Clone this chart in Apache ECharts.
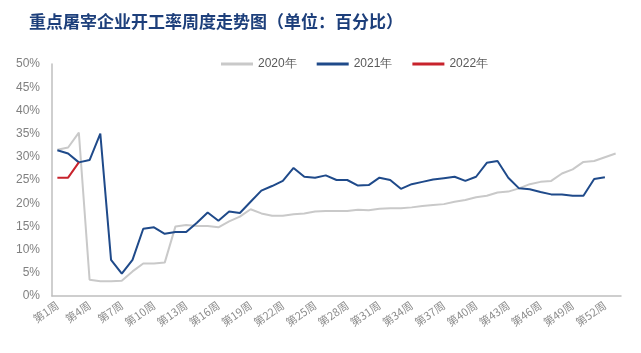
<!DOCTYPE html>
<html><head><meta charset="utf-8">
<script src="https://cdn.jsdelivr.net/npm/echarts@6/dist/echarts.min.js"></script>
<style>html,body{margin:0;padding:0;background:#fff;}#c{width:641px;height:353px;}</style>
</head><body><div id="c"></div>
<script>
const weeks = [];
for (let i = 1; i <= 53; i++) weeks.push('第' + i + '周');
const y2020 = [31.5,32.0,35.2,3.5,3.2,3.2,3.3,5.3,7.0,7.0,7.2,15.0,15.3,15.1,15.1,14.8,16.1,17.1,18.7,17.8,17.3,17.3,17.6,17.8,18.2,18.3,18.3,18.3,18.6,18.5,18.8,18.9,18.9,19.1,19.4,19.6,19.8,20.3,20.7,21.3,21.6,22.3,22.5,23.2,24.1,24.6,24.8,26.4,27.3,28.9,29.1,29.9,30.7];
const y2021 = [31.4,30.7,28.8,29.3,35.0,7.8,4.8,7.8,14.5,14.8,13.4,13.8,13.8,15.8,18.0,16.2,18.2,17.9,20.3,22.7,23.7,24.8,27.6,25.7,25.5,26.0,25.0,25.0,23.8,23.9,25.5,25.0,23.1,24.1,24.6,25.1,25.4,25.7,24.8,25.7,28.7,29.1,25.5,23.2,23.0,22.4,21.9,21.9,21.6,21.6,25.2,25.6];
const y2022 = [25.5,25.5,28.8];
const yTicks = [0,5,10,15,20,25,30,35,40,45,50];

const chart = echarts.init(document.getElementById('c'));
chart.setOption({
  animation: false,
  backgroundColor: '#fff',
  title: {
    text: '重点屠宰企业开工率周度走势图（单位：百分比）',
    left: 24, top: 8,
    textStyle: {fontFamily: 'Noto Sans CJK SC', fontWeight: 'bold', fontSize: 17, color: '#1d3f7b'}
  },
  legend: {
    top: 53, left: 216,
    itemWidth: 32, itemHeight: 3, itemGap: 20,
    icon: 'rect',
    textStyle: {color: '#595959', fontSize: 12, fontFamily: 'Liberation Sans'},
    data: ['2020年','2021年','2022年']
  },
  grid: {left: 52, right: 20, top: 64, bottom: 57},
  xAxis: {
    type: 'category', data: weeks, boundaryGap: true,
    axisLine: {lineStyle: {color: '#bfbfbf', width: 1.5}},
    axisTick: {show: false},
    axisLabel: {interval: 2, rotate: 35, color: '#8c8c8c', fontSize: 11, margin: 8, fontFamily: 'Noto Sans CJK SC'}
  },
  yAxis: {
    type: 'value', min: yTicks[0], max: yTicks[yTicks.length-1], interval: 5,
    axisLine: {show: true, lineStyle: {color: '#bfbfbf', width: 1.5}},
    axisTick: {show: false},
    splitLine: {show: false},
    axisLabel: {formatter: '{value}%', color: '#808080', fontSize: 12, margin: 12, fontFamily: 'Liberation Sans'}
  },
  series: [
    {name: '2020年', type: 'line', data: y2020, symbol: 'none', lineStyle: {color: '#c9c9c9', width: 2}, itemStyle: {color: '#c9c9c9'}},
    {name: '2021年', type: 'line', data: y2021, symbol: 'none', lineStyle: {color: '#1f4a8a', width: 2}, itemStyle: {color: '#1f4a8a'}},
    {name: '2022年', type: 'line', data: y2022, symbol: 'none', lineStyle: {color: '#c8232c', width: 2}, itemStyle: {color: '#c8232c'}}
  ]
});
</script></body></html>
